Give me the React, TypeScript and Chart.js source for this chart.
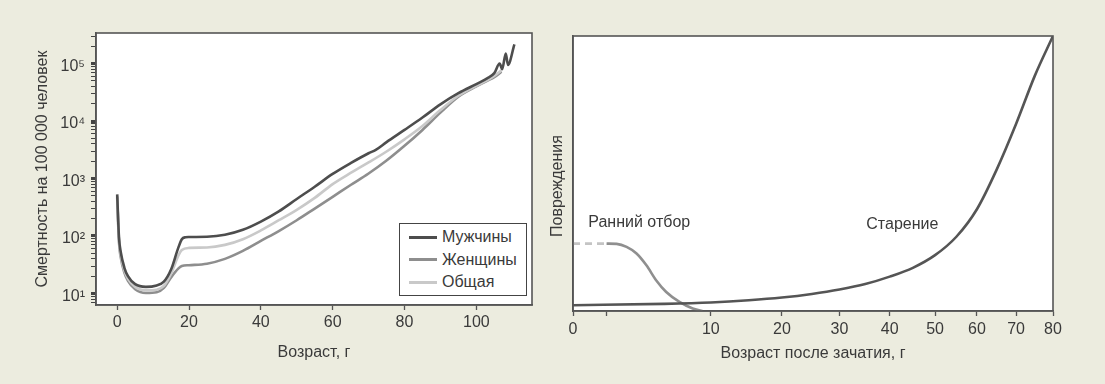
import React, { useEffect, useRef } from 'react';
import { Chart, registerables, LinearScale } from 'chart.js';

Chart.register(...registerables);

// ---------------- DATA: left chart (mortality, log scale) ----------------
const maleAges = [0, 0.5, 1, 2, 3, 5, 8, 11, 13, 15, 17, 18, 19, 20, 25, 30, 35, 40, 45, 50, 55, 60, 65, 70, 72, 75, 80, 85, 90, 95, 100, 103, 105, 106.5, 107.2, 108.2, 108.8, 110.6];
const maleRates = [530, 95, 52, 28, 20, 14.5, 13, 13.8, 16, 26, 62, 88, 95, 96, 97, 105, 128, 178, 268, 440, 720, 1200, 1850, 2750, 3150, 4300, 7000, 11500, 19500, 30500, 44000, 55000, 68000, 100000, 80000, 150000, 95000, 215000];

const femaleAges = [0, 0.5, 1, 2, 3, 5, 8, 11, 13, 15, 17, 18, 20, 25, 30, 35, 40, 45, 50, 55, 60, 65, 70, 75, 80, 85, 90, 95, 100, 103, 105, 107];
const femaleRates = [470, 78, 42, 23, 16.5, 11.8, 10.2, 10.5, 12.5, 19, 27, 30, 31, 33, 40, 55, 82, 122, 188, 300, 480, 770, 1220, 2050, 3700, 7000, 14000, 26500, 40000, 50000, 58000, 72000];

const totalAges = [0, 0.5, 1, 2, 3, 5, 8, 11, 13, 15, 17, 18, 20, 25, 30, 35, 40, 45, 50, 55, 60, 65, 70, 75, 80, 85, 90, 95, 100, 103, 105, 107];
const totalRates = [500, 85, 46, 25, 18, 13, 11.3, 11.6, 13.5, 22, 45, 57, 62, 63, 70, 88, 125, 188, 285, 460, 800, 1250, 1900, 2950, 4800, 8200, 15500, 27500, 41000, 51000, 61000, 76000];

const seriesLabels = ['Мужчины', 'Женщины', 'Общая'];
const seriesColors = ['#4d4d4d', '#8e8e8e', '#c9c9c9'];

const leftXTicks = [0, 20, 40, 60, 80, 100];
const leftYExponents = [0, 1, 2, 3, 4, 5];
const leftYMultipliers = [1, 2, 3, 4, 5, 6, 7, 8, 9];

// ---------------- DATA: right chart (damage vs age after conception) ----------------
const agingAges = [0, 5, 10, 15, 20, 25, 30, 35, 40, 45, 50, 55, 60, 65, 70, 75, 80];
const agingDamage = [2.1, 2.6, 3.1, 3.9, 4.9, 6.2, 7.8, 9.8, 12.5, 15.7, 20.3, 27.0, 37.0, 51.5, 68, 85.5, 100];

const selectionAges = [0.95, 1.47, 2.07, 2.75, 3.5, 4.32, 5.21, 6.5, 7.9, 9.0];
const selectionDamage = [24.5, 24.4, 23.3, 20.9, 16.6, 11.1, 6.9, 3.3, 0.9, 0];

const prenatalAges = [0, 0.95];
const prenatalDamage = [24.5, 24.5];

const rightXTicks = [0, 0.95, 10, 20, 30, 40, 50, 60, 70, 80];
const rightXTickLabels = ['0', '', '10', '20', '30', '40', '50', '60', '70', '80'];

const rightNotes = [
  { text: 'Ранний отбор', age: 2.95, damage: 32 },
  { text: 'Старение', age: 42.7, damage: 31.6 },
];

// ---------------- helpers ----------------
const FONT = '"Liberation Sans", Arial, sans-serif';
const TEXT = '#3a3a3a';
const AXIS = '#555555';
const SUP: Record<string, string> = { '0': '⁰', '1': '¹', '2': '²', '3': '³', '4': '⁴', '5': '⁵' };

const POWER = 0.6;
class PowerScale extends LinearScale {
  static id = 'power';
  static defaults = LinearScale.defaults;
  _pw(v: number) {
    return Math.pow(Math.max(v, 0), POWER);
  }
  getPixelForValue(value: any) {
    if (value === null || value === undefined || isNaN(value)) return NaN;
    const a = this._pw(this.min);
    const b = this._pw(this.max);
    return this.getPixelForDecimal((this._pw(value) - a) / (b - a));
  }
  getValueForPixel(pixel: number) {
    const a = this._pw(this.min);
    const b = this._pw(this.max);
    const t = a + this.getDecimalForPixel(pixel) * (b - a);
    return Math.pow(t, 1 / POWER);
  }
}
Chart.register(PowerScale as any);

const toPoints = (xs: number[], ys: number[]) => xs.map((x, i) => ({ x, y: ys[i] }));

const framePlugin = {
  id: 'frameBox',
  beforeDraw(chart: any) {
    const { ctx, chartArea: a } = chart;
    ctx.save();
    ctx.fillStyle = '#ffffff';
    ctx.fillRect(a.left, a.top, a.right - a.left, a.bottom - a.top);
    ctx.restore();
  },
  afterDraw(chart: any) {
    const { ctx, chartArea: a } = chart;
    ctx.save();
    ctx.strokeStyle = AXIS;
    ctx.lineWidth = 1.6;
    ctx.strokeRect(a.left, a.top, a.right - a.left, a.bottom - a.top);
    ctx.restore();
  },
};

const isPow10 = (v: number) => Math.abs(Math.log10(v) - Math.round(Math.log10(v))) < 1e-9;

export default function App() {
  const leftRef = useRef<HTMLCanvasElement>(null);
  const rightRef = useRef<HTMLCanvasElement>(null);

  useEffect(() => {
    Chart.defaults.font.family = FONT;
    Chart.defaults.font.size = 16;
    Chart.defaults.color = TEXT;

    const lineStyle = {
      pointRadius: 0,
      borderWidth: 2.6,
      cubicInterpolationMode: 'monotone' as const,
      fill: false,
    };

    const left = new Chart(leftRef.current!, {
      type: 'line',
      data: {
        datasets: [
          { label: seriesLabels[0], data: toPoints(maleAges, maleRates), borderColor: seriesColors[0], order: 1, ...lineStyle },
          { label: seriesLabels[2], data: toPoints(totalAges, totalRates), borderColor: seriesColors[2], order: 2, ...lineStyle },
          { label: seriesLabels[1], data: toPoints(femaleAges, femaleRates), borderColor: seriesColors[1], order: 3, ...lineStyle },
        ],
      },
      options: {
        responsive: false,
        animation: false,
        events: [],
        layout: { padding: { left: 0, top: 33, right: 16, bottom: 0 } },
        plugins: { legend: { display: false }, tooltip: { enabled: false } },
        scales: {
          x: {
            type: 'linear',
            min: -5.9,
            max: 115.5,
            afterBuildTicks: (s: any) => {
              s.ticks = leftXTicks.map((v) => ({ value: v }));
            },
            afterFit: (s: any) => {
              s.height = 79;
            },
            ticks: { autoSkip: false, maxRotation: 0, padding: 3, color: TEXT, font: { size: 16 } },
            grid: { drawOnChartArea: false, drawTicks: true, tickLength: 5, color: AXIS, tickWidth: 1.3 },
            border: { display: true, color: AXIS, width: 1.6 },
            title: { display: true, text: 'Возраст, г', color: TEXT, font: { size: 16 }, padding: { top: 0, bottom: 22 } },
          },
          y: {
            type: 'logarithmic',
            min: 6.3,
            max: 340000,
            afterBuildTicks: (s: any) => {
              const t: any[] = [];
              leftYExponents.forEach((e) =>
                leftYMultipliers.forEach((m) => {
                  const v = m * Math.pow(10, e);
                  if (v >= s.min && v <= s.max) t.push({ value: v });
                })
              );
              s.ticks = t;
            },
            afterFit: (s: any) => {
              s.width = 96;
            },
            ticks: {
              autoSkip: false,
              padding: 6,
              labelOffset: 3,
              color: TEXT,
              font: { size: 16 },
              callback: (v: any) => {
                const n = Number(v);
                if (!isPow10(n)) return '';
                const e = String(Math.round(Math.log10(n)));
                return '10' + e.split('').map((c) => SUP[c]).join('');
              },
            },
            grid: {
              drawOnChartArea: false,
              drawTicks: true,
              tickLength: 5,
              color: '#444',
              tickWidth: (ctx: any) => (ctx.tick && isPow10(ctx.tick.value) ? 3 : 1),
            },
            border: { display: true, color: AXIS, width: 1.6 },
            title: { display: true, text: 'Смертность на 100 000 человек', color: TEXT, font: { size: 16 }, padding: { top: 33, bottom: 0 } },
          },
        },
      },
      plugins: [framePlugin],
    } as any);

    const notesPlugin = {
      id: 'notes',
      afterDatasetsDraw(chart: any) {
        const { ctx, scales } = chart;
        ctx.save();
        ctx.fillStyle = TEXT;
        ctx.font = `16px ${FONT}`;
        ctx.textAlign = 'center';
        ctx.textBaseline = 'middle';
        rightNotes.forEach((n) => {
          ctx.fillText(n.text, scales.x.getPixelForValue(n.age), scales.y.getPixelForValue(n.damage));
        });
        ctx.restore();
      },
      afterDraw(chart: any) {
        const { ctx } = chart;
        ctx.save();
        ctx.fillStyle = TEXT;
        ctx.font = `16px ${FONT}`;
        ctx.textAlign = 'center';
        ctx.textBaseline = 'middle';
        ctx.translate(10, 186);
        ctx.rotate(-Math.PI / 2);
        ctx.fillText('Повреждения', 0, 0);
        ctx.restore();
      },
    };

    const right = new Chart(rightRef.current!, {
      type: 'line',
      data: {
        datasets: [
          { label: 'Старение', data: toPoints(agingAges, agingDamage), borderColor: '#555555', order: 1, ...lineStyle },
          { label: 'Ранний отбор', data: toPoints(selectionAges, selectionDamage), borderColor: '#8f8f8f', order: 2, ...lineStyle },
          { label: 'до рождения', data: toPoints(prenatalAges, prenatalDamage), borderColor: '#c4c4c4', borderDash: [7, 5], order: 3, ...lineStyle },
        ],
      },
      options: {
        responsive: false,
        animation: false,
        events: [],
        layout: { padding: { left: 0, top: 36, right: 52, bottom: 0 } },
        plugins: { legend: { display: false }, tooltip: { enabled: false } },
        scales: {
          x: {
            type: 'power',
            min: 0,
            max: 80,
            afterBuildTicks: (s: any) => {
              s.ticks = rightXTicks.map((v) => ({ value: v }));
            },
            afterFit: (s: any) => {
              s.height = 73;
            },
            ticks: {
              autoSkip: false,
              maxRotation: 0,
              padding: 4,
              color: TEXT,
              font: { size: 16 },
              callback: (_v: any, i: number) => rightXTickLabels[i],
            },
            grid: { drawOnChartArea: false, drawTicks: true, tickLength: 5, color: AXIS, tickWidth: 1.3 },
            border: { display: true, color: AXIS, width: 1.6 },
            title: { display: true, text: 'Возраст после зачатия, г', color: TEXT, font: { size: 16 }, padding: { top: 0, bottom: 21 } },
          },
          y: {
            type: 'linear',
            min: 0,
            max: 100,
            afterFit: (s: any) => {
              s.width = 25;
            },
            ticks: { display: false },
            grid: { display: false },
            border: { display: true, color: AXIS, width: 1.6 },
            title: { display: false },
          },
        },
      },
      plugins: [framePlugin, notesPlugin],
    } as any);

    return () => {
      left.destroy();
      right.destroy();
    };
  }, []);

  const legendRows = [
    { label: seriesLabels[0], color: seriesColors[0] },
    { label: seriesLabels[1], color: seriesColors[1] },
    { label: seriesLabels[2], color: seriesColors[2] },
  ];

  return (
    <div
      style={{
        position: 'absolute',
        left: 0,
        top: 0,
        width: 1105,
        height: 384,
        background: '#ECECDF',
        overflow: 'hidden',
        fontFamily: FONT,
      }}
    >
      <canvas ref={leftRef} width={548} height={384} style={{ position: 'absolute', left: 0, top: 0 }} />
      <canvas ref={rightRef} width={557} height={384} style={{ position: 'absolute', left: 548, top: 0 }} />
      <div
        style={{
          position: 'absolute',
          left: 399,
          top: 223,
          width: 128,
          height: 73,
          boxSizing: 'border-box',
          border: '1.6px solid #444',
          background: '#fff',
        }}
      >
        {legendRows.map((r, i) => (
          <div key={r.label} style={{ position: 'absolute', left: 0, top: 2 + i * 22.5, height: 22, width: '100%' }}>
            <div style={{ position: 'absolute', left: 9, top: 9.5, width: 28, height: 3, background: r.color }} />
            <div style={{ position: 'absolute', left: 42, top: 0, lineHeight: '22px', fontSize: 16, color: TEXT, whiteSpace: 'nowrap' }}>
              {r.label}
            </div>
          </div>
        ))}
      </div>
    </div>
  );
}
